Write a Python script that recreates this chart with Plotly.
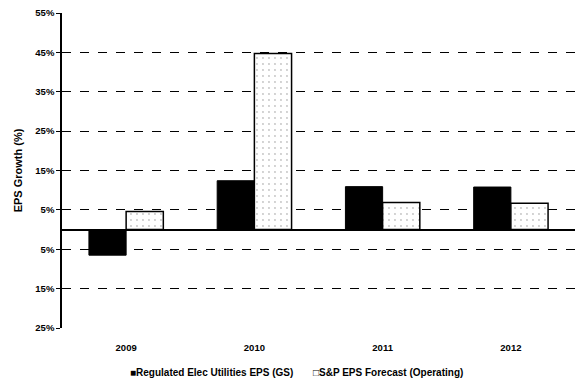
import plotly.graph_objects as go

# EPS growth by year (%)
years = ["2009", "2010", "2011", "2012"]
regulated_eps = [-6.5, 12.4, 10.9, 10.8]
sp_forecast_eps = [4.6, 44.7, 6.9, 6.7]
series_names = ["Regulated Elec Utilities EPS (GS)", "S&P EPS Forecast (Operating)"]

# y-axis ticks (negative values shown as magnitudes)
y_tickvals = [-25, -15, -5, 5, 15, 25, 35, 45, 55]
y_ticktext = ["25%", "15%", "5%", "5%", "15%", "25%", "35%", "45%", "55%"]

font_family = "Liberation Sans, Arial, sans-serif"

fig = go.Figure()
fig.add_trace(go.Bar(
    x=years, y=regulated_eps,
    name=series_names[0],
    marker=dict(color="black", line=dict(color="black", width=1)),
))
fig.add_trace(go.Bar(
    x=years, y=sp_forecast_eps,
    name=series_names[1],
    marker=dict(
        color="white",
        line=dict(color="black", width=1.5),
        pattern=dict(shape=".", fgcolor="#888888", bgcolor="white", size=6, solidity=0.08),
    ),
))

# compact key below the axis: filled square / hollow square markers
key_font = dict(family=font_family, size=10, color="black", weight="bold")
fig.add_annotation(text="\u25a0" + series_names[0], x=0.128, y=-0.14,
                   xref="paper", yref="paper", xanchor="left", yanchor="middle",
                   showarrow=False, font=key_font)
fig.add_annotation(text="\u25a1" + series_names[1], x=0.485, y=-0.14,
                   xref="paper", yref="paper", xanchor="left", yanchor="middle",
                   showarrow=False, font=key_font)

fig.update_layout(
    width=575, height=381,
    margin=dict(l=62, r=0, t=13, b=53, autoexpand=False),
    paper_bgcolor="white", plot_bgcolor="white",
    barmode="group", bargap=0.42, bargroupgap=0,
    font=dict(family=font_family, size=9, color="black"),
    showlegend=False,
    xaxis=dict(
        showline=False, showgrid=False, ticks="", ticklabelstandoff=12,
        tickfont=dict(family=font_family, size=9.5, weight="bold"),
    ),
    yaxis=dict(
        range=[-25, 55],
        tickvals=y_tickvals, ticktext=y_ticktext,
        showline=True, linecolor="black", linewidth=1.5,
        ticks="outside", ticklen=4, tickcolor="black",
        showgrid=True, gridcolor="black", griddash="dash", gridwidth=1,
        zeroline=True, zerolinecolor="black", zerolinewidth=1.5,
        tickfont=dict(family=font_family, size=9.5, weight="bold"),
        title=dict(text="EPS Growth (%)", standoff=10,
                   font=dict(family=font_family, size=11, weight="bold")),
    ),
)

fig.write_html("out.html")
